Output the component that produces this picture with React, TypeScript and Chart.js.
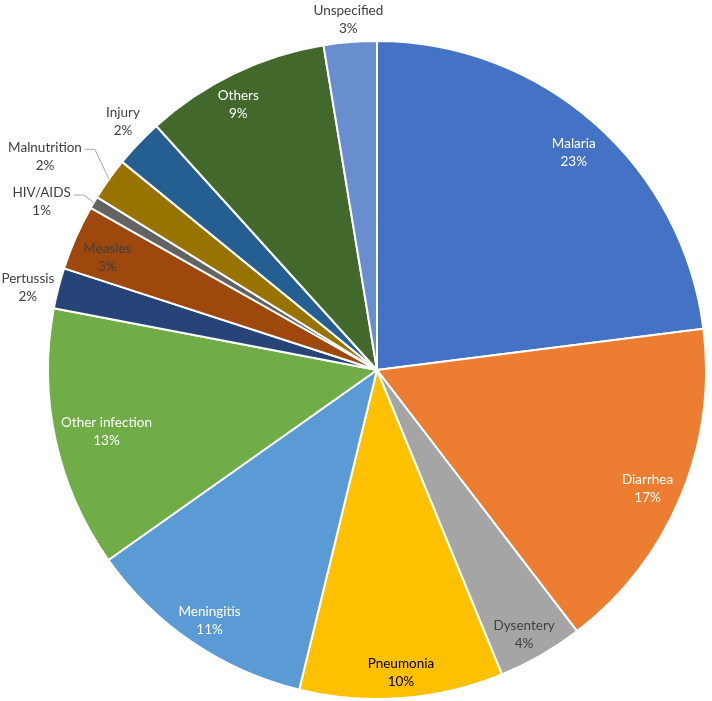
import React, { useEffect, useRef } from "react";
import { Chart, registerables } from "chart.js";

Chart.register(...registerables);

const categories = [
  "Malaria", "Diarrhea", "Dysentery", "Pneumonia", "Meningitis", "Other infection",
  "Pertussis", "Measles", "HIV/AIDS", "Malnutrition", "Injury", "Others", "Unspecified",
];
const values = [23.0, 16.6, 4.2, 10.0, 11.4, 12.8, 2.0, 3.2, 0.6, 2.1, 2.4, 9.1, 2.6];
const colors = [
  "#4472C4", "#ED7D31", "#A5A5A5", "#FFC000", "#5B9BD5", "#70AD47",
  "#264478", "#9E480E", "#636363", "#997300", "#255E91", "#43682B", "#698ED0",
];
const textColors = [
  "#FFFFFF", "#FFFFFF", "#404040", "#000000", "#FFFFFF", "#FFFFFF",
  "#404040", "#404040", "#404040", "#404040", "#404040", "#FFFFFF", "#404040",
];
// label placement: radius factor relative to outer radius, angle offset (deg) from slice middle
const labelRadius = [0.892, 0.898, 0.92, 0.923, 0.915, 0.843, 1.09, 0.888, 1.14, 1.2, 1.08, 0.909, 1.067];
const labelAngleOffset = [0.7, 1.0, 0.8, -0.2, -0.4, -0.5, -1.2, -1.1, -4, -2.7, 0.8, -1.9, 0];
const hasLeader = [false, false, false, false, false, false, false, false, true, true, false, false, false];

const labelPlugin = {
  id: "sliceLabels",
  afterDatasetsDraw(chart: any) {
    const ctx = chart.ctx;
    const meta = chart.getDatasetMeta(0);
    const data = chart.data.datasets[0].data as number[];
    const total = data.reduce((a, b) => a + b, 0);
    ctx.save();
    ctx.font = "13.5px Lato, 'Open Sans', sans-serif";
    ctx.textAlign = "center";
    ctx.textBaseline = "middle";
    meta.data.forEach((arc: any, i: number) => {
      const mid = (arc.startAngle + arc.endAngle) / 2 + (labelAngleOffset[i] * Math.PI) / 180;
      const r = arc.outerRadius * labelRadius[i];
      const x = arc.x + Math.cos(mid) * r;
      const y = arc.y + Math.sin(mid) * r;
      const pct = Math.round((data[i] / total) * 100) + "%";
      const name = chart.data.labels[i];
      if (hasLeader[i]) {
        const w = ctx.measureText(name).width;
        const realMid = (arc.startAngle + arc.endAngle) / 2;
        const ex = arc.x + Math.cos(realMid) * arc.outerRadius;
        const ey = arc.y + Math.sin(realMid) * arc.outerRadius;
        const ly = y - 7;
        const lx = x + w / 2 + 3;
        ctx.strokeStyle = "#A6A6A6";
        ctx.lineWidth = 1;
        ctx.beginPath();
        ctx.moveTo(ex, ey);
        ctx.lineTo(lx + 10, ly);
        ctx.lineTo(lx, ly);
        ctx.stroke();
      }
      ctx.fillStyle = textColors[i];
      ctx.fillText(name, x, y - 9);
      ctx.fillText(pct, x, y + 9);
    });
    ctx.restore();
  },
};

export default function App() {
  const canvasRef = useRef<HTMLCanvasElement | null>(null);
  useEffect(() => {
    if (!canvasRef.current) return;
    const chart = new Chart(canvasRef.current, {
      type: "pie",
      data: {
        labels: categories,
        datasets: [
          {
            data: values,
            backgroundColor: colors,
            borderColor: "#FFFFFF",
            borderWidth: 2,
          },
        ],
      },
      options: {
        animation: false,
        responsive: true,
        maintainAspectRatio: false,
        layout: { padding: { left: 47, right: 5, top: 40, bottom: 1 } },
        plugins: {
          legend: { display: false },
          tooltip: { enabled: false },
        },
      },
      plugins: [labelPlugin],
    });
    return () => chart.destroy();
  }, []);
  return (
    <div style={{ position: "absolute", left: 0, top: 0, width: 712, height: 701, background: "#fff" }}>
      <canvas ref={canvasRef} />
    </div>
  );
}
